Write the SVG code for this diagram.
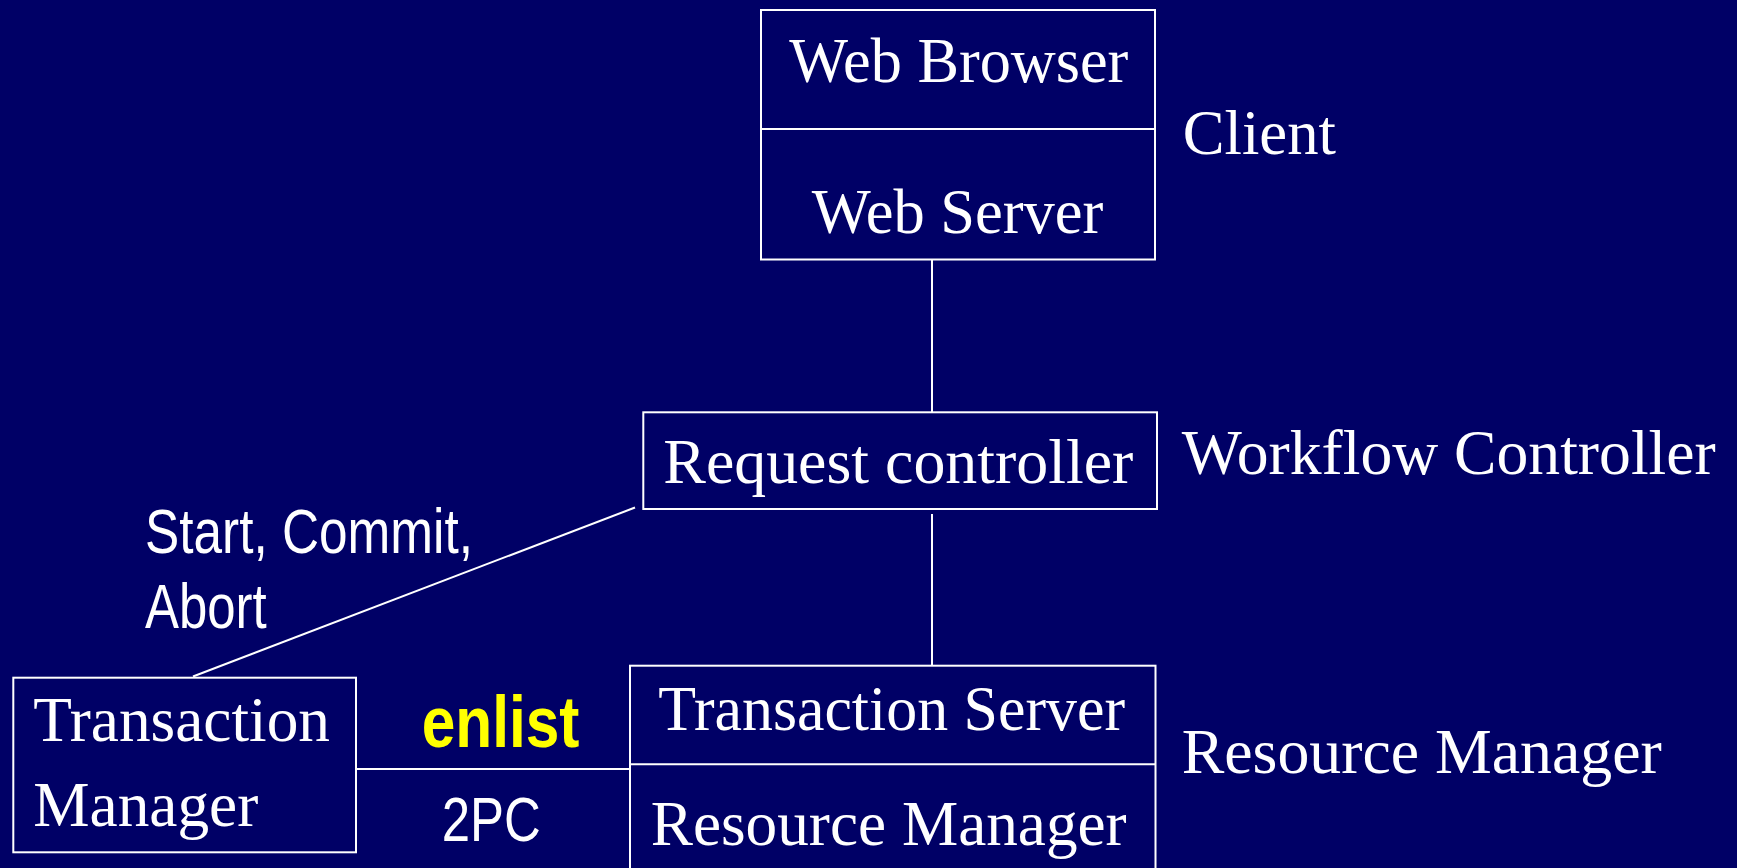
<svg xmlns="http://www.w3.org/2000/svg" width="1737" height="868" viewBox="0 0 1737 868">
<style>
.box{fill:none;stroke:#ffffff;stroke-width:2}
.ln{stroke:#ffffff;stroke-width:2;fill:none}
.serif{font-family:"Liberation Serif","Times New Roman",serif;font-size:64px;fill:#ffffff}
.sans{font-family:"Liberation Sans",Arial,sans-serif;font-size:63px;fill:#ffffff}
.hl{font-family:"Liberation Sans",Arial,sans-serif;font-size:72px;font-weight:bold;fill:#ffff00}
</style>
<rect x="0" y="0" width="1737" height="868" fill="#000066"/>
<g id="connectors">
<line class="ln" x1="932" y1="260" x2="932" y2="412"/>
<line class="ln" x1="932" y1="514" x2="932" y2="666"/>
<line class="ln" x1="193" y1="676.5" x2="635" y2="507.5"/>
<line class="ln" x1="356" y1="769" x2="630" y2="769"/>
<text class="sans" x="145" y="553.3" textLength="328" lengthAdjust="spacingAndGlyphs">Start, Commit,</text>
<text class="sans" x="145" y="628.3" textLength="121.7" lengthAdjust="spacingAndGlyphs">Abort</text>
<text class="hl" x="421.7" y="746.7" textLength="157.7" lengthAdjust="spacingAndGlyphs">enlist</text>
<text class="sans" x="441.7" y="840.7" textLength="99" lengthAdjust="spacingAndGlyphs">2PC</text>
</g>
<g id="client">
<rect class="box" x="761" y="10" width="394" height="249.5"/>
<line class="ln" x1="761" y1="129" x2="1155" y2="129"/>
<text class="serif" x="789.3" y="81.7" textLength="339" lengthAdjust="spacingAndGlyphs">Web Browser</text>
<text class="serif" x="811.7" y="233.3" textLength="291.6" lengthAdjust="spacingAndGlyphs">Web Server</text>
<text class="serif" x="1182.7" y="154" textLength="153.3" lengthAdjust="spacingAndGlyphs">Client</text>
</g>
<g id="workflow-controller">
<rect class="box" x="643.3" y="412.3" width="513.7" height="96.7"/>
<text class="serif" x="663.3" y="483.3" textLength="470" lengthAdjust="spacingAndGlyphs">Request controller</text>
<text class="serif" x="1181.7" y="474" textLength="534" lengthAdjust="spacingAndGlyphs">Workflow Controller</text>
</g>
<g id="resource-manager">
<rect class="box" x="630" y="665.7" width="525.5" height="220"/>
<line class="ln" x1="630" y1="764.3" x2="1155.5" y2="764.3"/>
<text class="serif" x="658.3" y="730" textLength="466.7" lengthAdjust="spacingAndGlyphs">Transaction Server</text>
<text class="serif" x="650.7" y="845" textLength="476" lengthAdjust="spacingAndGlyphs">Resource Manager</text>
<text class="serif" x="1181.7" y="773.3" textLength="480" lengthAdjust="spacingAndGlyphs">Resource Manager</text>
</g>
<g id="transaction-manager">
<rect class="box" x="13.3" y="677.7" width="342.7" height="174.6"/>
<text class="serif" x="33.3" y="741" textLength="296.7" lengthAdjust="spacingAndGlyphs">Transaction</text>
<text class="serif" x="33.3" y="825.7" textLength="225" lengthAdjust="spacingAndGlyphs">Manager</text>
</g>
</svg>
